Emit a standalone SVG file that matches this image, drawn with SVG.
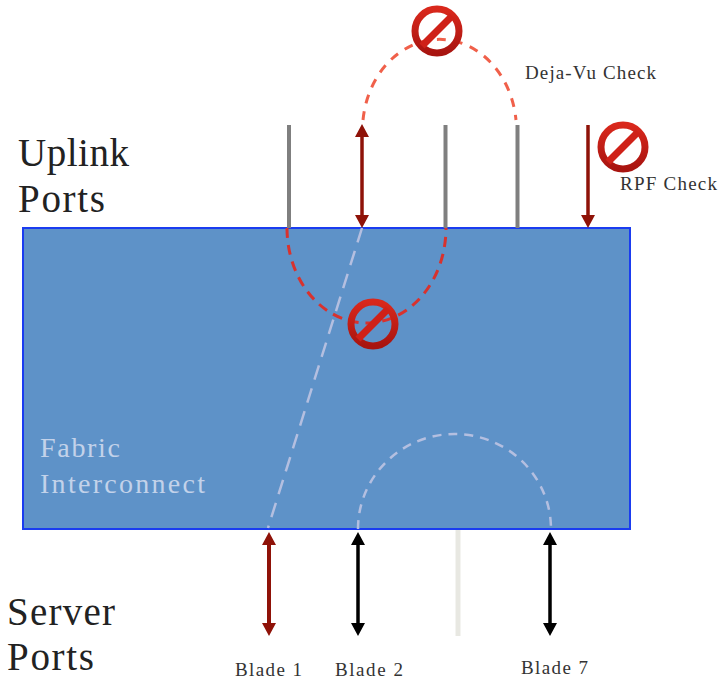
<svg xmlns="http://www.w3.org/2000/svg" width="722" height="680" viewBox="0 0 722 680">
<style>
text{font-family:"Liberation Serif","DejaVu Serif",serif;fill:#222}
.big{font-size:39px}
.small{font-size:19px;fill:#333}
.gray{stroke:#7f7f7f;stroke-width:4;fill:none}
.red{stroke:#8f1208;stroke-width:3.500;fill:none}
.blk{stroke:#000;stroke-width:3.500;fill:none}
.rd{stroke:#f0604a;stroke-width:3;fill:none;stroke-dasharray:9 8}
.rd2{stroke:#d8322e;stroke-width:3;fill:none;stroke-dasharray:10 7}
.lt{stroke:#b4bfe0;stroke-width:2.500;fill:none;stroke-dasharray:15 9}
.lt2{stroke:#b4bfe0;stroke-width:2.500;fill:none;stroke-dasharray:9 7}
.ah{fill:#8f1208}
.ak{fill:#000}
.fab{font-size:28px;fill:#c3d2ea}
</style>
<defs>
<linearGradient id="rg" x1="0" y1="0" x2="0" y2="1"><stop offset="0" stop-color="#d9281c"/><stop offset="1" stop-color="#a81410"/></linearGradient>
<g id="noSym">
<circle r="22" fill="none" stroke="url(#rg)" stroke-width="7"/>
<line x1="-15" y1="15" x2="15" y2="-15" stroke="#cf2118" stroke-width="7"/>
</g>
</defs>
<rect width="722" height="680" fill="#fff"/>
<g id="fabric"><rect x="23" y="228" width="607" height="301" fill="#5e92c8" stroke="#1a3cf0" stroke-width="2"/>
<text class="fab" x="40" y="457" textLength="80" lengthAdjust="spacing">Fabric</text>
<text class="fab" x="40" y="493" textLength="165" lengthAdjust="spacing">Interconnect</text></g>
<g id="connectors">
<line class="gray" x1="289" y1="125" x2="289" y2="228"/>
<line class="gray" x1="445.500" y1="125" x2="445.500" y2="228"/>
<line class="gray" x1="517.500" y1="125" x2="517.500" y2="228"/>
<line class="red" x1="362" y1="134" x2="362" y2="218"/>
<path class="ah" d="M362 124l7 13h-14zM362 228l-7-13h14z"/>
<line class="red" x1="588" y1="125" x2="588" y2="218"/>
<path class="ah" d="M588 228l-7-13h14z"/>
<line class="red" x1="269" y1="542" x2="269" y2="626" style="stroke-width:4"/>
<path class="ah" d="M269 532l7 13h-14zM269 636l-7-13h14z"/>
<line class="blk" x1="358" y1="542" x2="358" y2="626"/>
<path class="ak" d="M358 532l7 13h-14zM358 636l-7-13h14z"/>
<line class="blk" x1="550" y1="542" x2="550" y2="626"/>
<path class="ak" d="M550 532l7 13h-14zM550 636l-7-13h14z"/>
<line x1="458" y1="530" x2="458" y2="636" stroke="#e8e8e2" stroke-width="5"/>
<path class="rd" d="M363 120A77 91 0 0 1 516 120"/>
<path class="rd2" d="M287 228A79.500 95 0 0 0 446 228"/>
<line class="lt" x1="362" y1="228" x2="268" y2="528"/>
<path class="lt2" d="M358 529A96.500 95 0 0 1 551 529"/>
</g>
<g id="no-top"><use href="#noSym" x="437" y="31"/></g>
<g id="no-rpf"><use href="#noSym" x="623" y="147"/></g>
<g id="no-mid"><use href="#noSym" x="373" y="324"/></g>
<g id="labels">
<text class="big" x="18" y="166" textLength="111" lengthAdjust="spacing">Uplink</text>
<text class="big" x="18" y="212" textLength="87" lengthAdjust="spacing">Ports</text>
<text class="big" x="7" y="625" textLength="108" lengthAdjust="spacing">Server</text>
<text class="big" x="7" y="670" textLength="87" lengthAdjust="spacing">Ports</text>
<text class="small" x="525" y="79" textLength="131" lengthAdjust="spacing">Deja-Vu Check</text>
<text class="small" x="620" y="190" textLength="97" lengthAdjust="spacing">RPF Check</text>
<text class="small" x="235" y="676" textLength="67" lengthAdjust="spacing">Blade 1</text>
<text class="small" x="335" y="676" textLength="68" lengthAdjust="spacing">Blade 2</text>
<text class="small" x="521" y="674" textLength="67" lengthAdjust="spacing">Blade 7</text>
</g>
</svg>
